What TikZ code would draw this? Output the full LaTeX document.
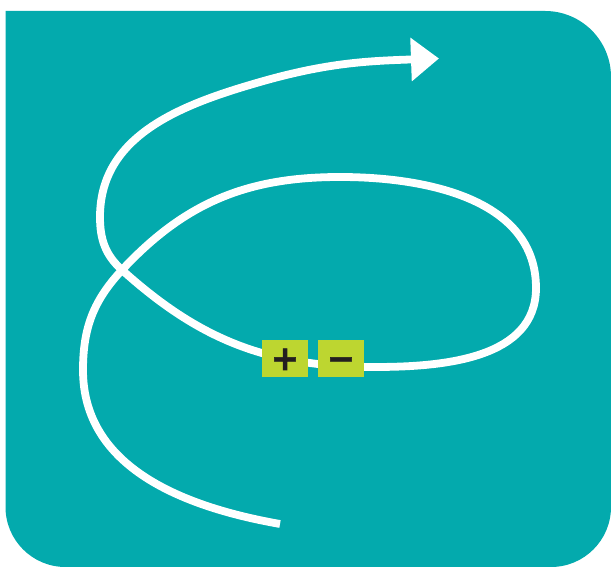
\documentclass[tikz,border=0pt]{standalone}
\usepackage{fontspec}
\newfontfamily\signfont[FakeBold=1.6]{DejaVu Sans Bold}
\usetikzlibrary{arrows.meta}
\definecolor{tealbg}{HTML}{03AAAD}
\definecolor{limebox}{HTML}{BDD630}
\definecolor{signink}{HTML}{231F20}
\tikzset{
  wire/.style={white, line width=7.8pt, line cap=butt},
  termbox/.style={fill=limebox, minimum width=46pt, minimum height=37pt, inner sep=0pt,
    text height=23pt, text depth=0pt,
    font=\signfont\fontsize{34}{34}\selectfont, text=signink}
}
\begin{document}
\begin{tikzpicture}[x=1pt, y=1pt]
  \useasboundingbox (0,0) rectangle (611,567);
  \fill[tealbg] (5.5,556) -- (545,556) arc[start angle=90, end angle=0, radius=66]
    -- (611,60) arc[start angle=0, end angle=-90, radius=60] -- (65.5,0)
    arc[start angle=-90, end angle=-180, radius=60] -- cycle;
  \coordinate (tail) at (280,43);
  \coordinate (cross) at (122,297);
  \coordinate (tip) at (439,508.5);
  \draw[wire, -{Triangle[length=28pt, width=42pt]}] (tail)
    to[out=170, in=-90] (83,197)
    to[out=90, in=227] (cross)
    to[out=47, in=180] (340,390)
    to[out=0, in=90] (536,279)
    to[out=-90, in=0] (375,200)
    to[out=180, in=-42] (cross)
    to[out=138, in=-90] (100,350)
    to[out=90, in=196] (260,485)
    to[out=16, in=182] (tip);
  \node[termbox] (plus) at (285,208.5) {+};
  \node[termbox] (minus) at (341,208.5) {−};
\end{tikzpicture}
\end{document}
